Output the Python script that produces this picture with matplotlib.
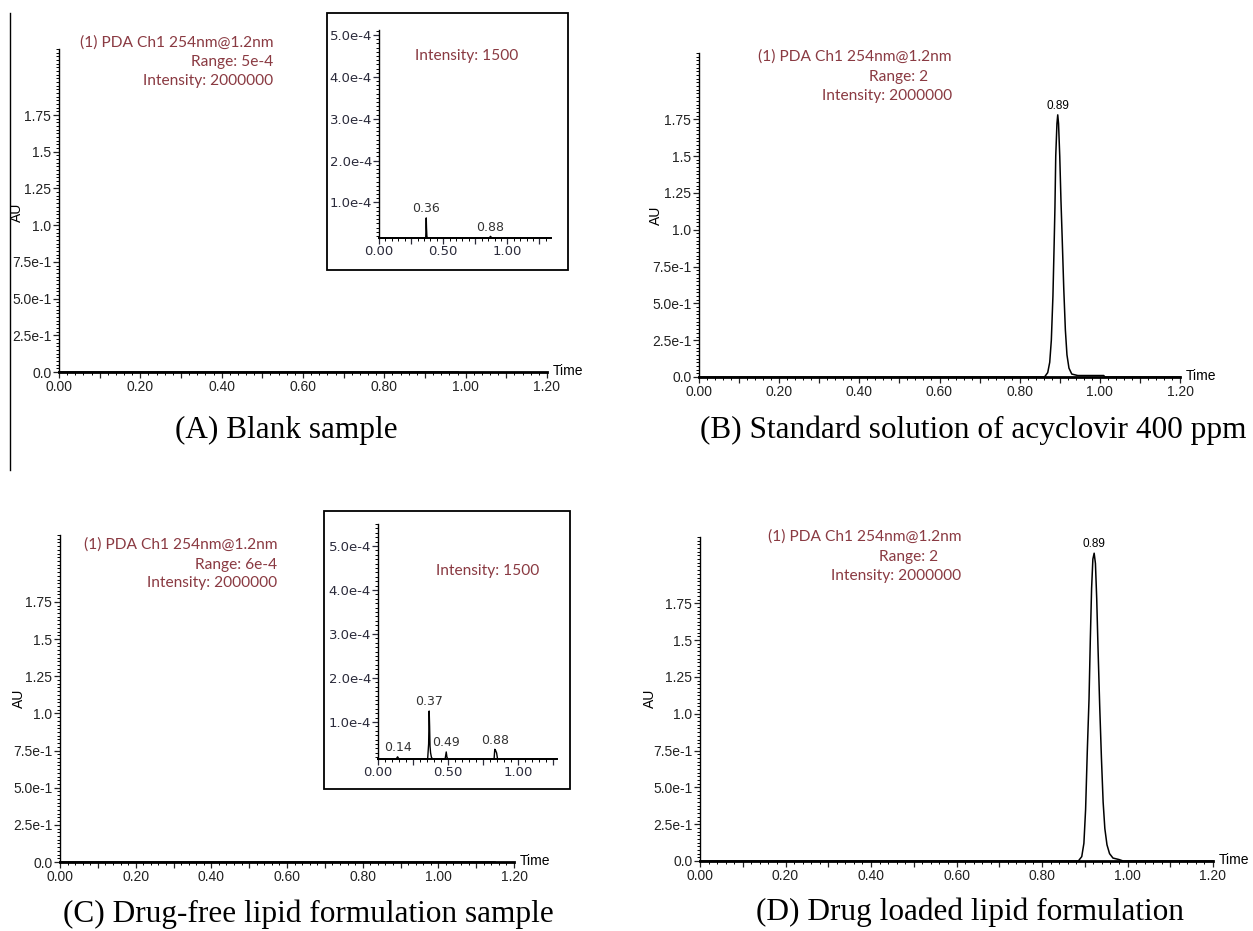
import numpy as np
import matplotlib
matplotlib.use("Agg")
import matplotlib.pyplot as plt
from matplotlib.ticker import MultipleLocator, FixedLocator, FuncFormatter
from matplotlib.patches import Rectangle
from matplotlib.lines import Line2D

W, H = 1253, 931
DPI = 100

# ---- dados lidos do cromatograma ----
# (A) branco: só linha de base
tempo_a = [0.0, 0.98]
au_a = [0.0, 0.0]

# (B) padrão aciclovir 400 ppm
tempo_b = [0.0, 0.862, 0.870, 0.875, 0.879, 0.883, 0.886, 0.888, 0.890, 0.893, 0.895,
           0.897, 0.900, 0.903, 0.906, 0.910, 0.914, 0.918, 0.923, 0.930, 0.945, 1.010, 1.012, 1.2]
au_b = [0.0, 0.0, 0.03, 0.10, 0.25, 0.55, 0.90, 1.15, 1.50, 1.72, 1.78,
        1.72, 1.50, 1.20, 0.95, 0.60, 0.32, 0.15, 0.06, 0.02, 0.01, 0.01, 0.0, 0.0]

# (C) formulação sem fármaco: só linha de base na escala principal
tempo_c = [0.0, 1.15]
au_c = [0.0, 0.0]

# (D) formulação com fármaco
tempo_d = [0.0, 0.885, 0.893, 0.898, 0.902, 0.906, 0.910, 0.913, 0.916, 0.919, 0.922,
           0.925, 0.928, 0.931, 0.935, 0.939, 0.943, 0.947, 0.952, 0.958, 0.966, 0.980, 0.990, 1.2]
au_d = [0.0, 0.0, 0.03, 0.12, 0.35, 0.75, 1.10, 1.50, 1.85, 2.05, 2.09,
        2.02, 1.78, 1.45, 1.05, 0.70, 0.40, 0.22, 0.11, 0.05, 0.02, 0.01, 0.0, 0.0]

# insertos (unidades de 1e-4 AU)
tempo_ia = [0.0, 0.364, 0.368, 0.370, 0.373, 0.376, 0.86, 0.868, 0.874, 0.88, 1.34]
au_ia = [0.15, 0.15, 0.63, 0.40, 0.20, 0.15, 0.15, 0.19, 0.17, 0.15, 0.15]

tempo_ic = [0.0, 0.13, 0.14, 0.15, 0.355, 0.362, 0.366, 0.369, 0.372, 0.376, 0.382, 0.39,
            0.48, 0.488, 0.493, 0.50, 0.83, 0.835, 0.84, 0.848, 0.855, 1.28]
au_ic = [0.16, 0.16, 0.21, 0.16, 0.16, 0.50, 1.25, 0.90, 0.45, 0.30, 0.20, 0.16,
         0.16, 0.32, 0.20, 0.16, 0.16, 0.38, 0.36, 0.30, 0.16, 0.16]

# rótulos de pico: (texto, tempo, altura)
picos_b = [("0.89", 0.895, 1.78)]
picos_d = [("0.89", 0.922, 2.09)]
picos_ia = [("0.36", 0.368, 0.63), ("0.88", 0.868, 0.19)]
picos_ic = [("0.14", 0.14, 0.21), ("0.37", 0.366, 1.25), ("0.49", 0.488, 0.32), ("0.88", 0.835, 0.38)]

yticks_main = [0.0, 0.25, 0.5, 0.75, 1.0, 1.25, 1.5, 1.75]
ylabels_main = ["0.0", "2.5e-1", "5.0e-1", "7.5e-1", "1.0", "1.25", "1.5", "1.75"]
yticks_ins = [1, 2, 3, 4, 5]
ylabels_ins = ["1.0e-4", "2.0e-4", "3.0e-4", "4.0e-4", "5.0e-4"]

legendas = ["(A) Blank sample", "(B) Standard solution of acyclovir 400 ppm",
            "(C) Drug-free lipid formulation sample", "(D) Drug loaded lipid formulation"]

MAROON = "#8a3a42"
SANS = ["Liberation Sans", "DejaVu Sans"]
INFO = ["Lato", "DejaVu Sans"]


def rect(x0, x1, ytop, ybot):
    return [x0 / W, 1 - ybot / H, (x1 - x0) / W, (ybot - ytop) / H]


def ftext(fig, x, y, s, **kw):
    fig.text(x / W, 1 - y / H, s, **kw)


fig = plt.figure(figsize=(W / DPI, H / DPI), dpi=DPI, facecolor="white")


def painel(pos, tempo, au, picos):
    x0, x1, ytop, ybot = pos
    ax = fig.add_axes(rect(x0, x1, ytop, ybot))
    ax.plot(tempo, au, color="black", lw=1.1, clip_on=False, zorder=5)
    ax.set_xlim(0, 1.2)
    ax.set_ylim(0, 2.2)
    for s in ("top", "right"):
        ax.spines[s].set_visible(False)
    ax.spines["left"].set_linewidth(1.0)
    ax.spines["bottom"].set_linewidth(2.0)
    ax.yaxis.set_major_locator(FixedLocator(yticks_main))
    ax.set_yticklabels(ylabels_main)
    ax.yaxis.set_minor_locator(MultipleLocator(0.025))
    ax.xaxis.set_major_locator(MultipleLocator(0.1))
    ax.xaxis.set_major_formatter(FuncFormatter(
        lambda v, p: f"{v:.2f}" if abs(round(v * 10)) % 2 == 0 else ""))
    ax.xaxis.set_minor_locator(MultipleLocator(0.02))
    ax.tick_params(which="major", length=4.5, width=0.9, pad=1, labelsize=10, colors="#222222")
    ax.tick_params(which="minor", length=2.5, width=0.7)
    for lab in ax.get_xticklabels() + ax.get_yticklabels():
        lab.set_family(SANS)
    for txt, t, y in picos:
        ax.annotate(txt, (t, y), xytext=(0, 2), textcoords="offset points",
                    ha="center", va="bottom", fontsize=8.5, family=SANS)
    ftext(fig, x1 + 6, ybot - 1, "Time", fontsize=10, family=SANS, va="center", ha="left")
    return ax


def inserto(pos, caixa, tempo, au, picos, ylim, xmax):
    bx0, bx1, by0, by1 = caixa
    fig.patches.append(Rectangle((bx0 / W, 1 - by1 / H), (bx1 - bx0) / W, (by1 - by0) / H,
                                 transform=fig.transFigure, fill=False, lw=1.3,
                                 edgecolor="black", zorder=3))
    x0, x1, ytop, ybot = pos
    ax = fig.add_axes(rect(x0, x1, ytop, ybot))
    ax.patch.set_alpha(0)
    ax.plot(tempo, au, color="black", lw=1.0, clip_on=False, zorder=5)
    ax.set_xlim(0, xmax)
    ax.set_ylim(*ylim)
    for s in ("top", "right"):
        ax.spines[s].set_visible(False)
    ax.spines["left"].set_linewidth(1.0)
    ax.spines["bottom"].set_linewidth(1.4)
    ax.yaxis.set_major_locator(FixedLocator(yticks_ins))
    ax.set_yticklabels(ylabels_ins)
    ax.yaxis.set_minor_locator(MultipleLocator(0.1))
    ax.xaxis.set_major_locator(MultipleLocator(0.25))
    ax.xaxis.set_major_formatter(FuncFormatter(
        lambda v, p: f"{v:.2f}" if abs(round(v * 4)) % 2 == 0 else ""))
    ax.xaxis.set_minor_locator(MultipleLocator(0.05))
    ax.tick_params(which="major", length=4, width=0.9, pad=1, labelsize=9.5, colors="#2b2b3b")
    ax.tick_params(which="minor", length=2, width=0.7)
    for lab in ax.get_xticklabels() + ax.get_yticklabels():
        lab.set_family(["DejaVu Sans"])
    for txt, t, y in picos:
        ax.annotate(txt, (t, y), xytext=(0, 2), textcoords="offset points",
                    ha="center", va="bottom", fontsize=9, color="#333333",
                    family=["DejaVu Sans"])
    return ax


painel((59, 547, 49, 372), tempo_a, au_a, [])
painel((699, 1180, 53, 377), tempo_b, au_b, picos_b)
painel((60, 514, 535, 862), tempo_c, au_c, [])
painel((700, 1213, 537, 861), tempo_d, au_d, picos_d)

inserto((379, 551, 30, 238), (327, 568, 13, 270), tempo_ia, au_ia, picos_ia, (0.15, 5.12), 1.34)
inserto((378, 557, 524, 759), (324, 570, 511, 789), tempo_ic, au_ic, picos_ic, (0.16, 5.5), 1.28)

# textos do detector
info = [
    [(273, 43, "(1) PDA Ch1 254nm@1.2nm"), (273, 62, "Range: 5e-4"), (273, 81, "Intensity: 2000000")],
    [(952, 57, "(1) PDA Ch1 254nm@1.2nm"), (928, 77, "Range: 2"), (952, 96, "Intensity: 2000000")],
    [(277, 545, "(1) PDA Ch1 254nm@1.2nm"), (277, 565, "Range: 6e-4"), (277, 583, "Intensity: 2000000")],
    [(961, 537, "(1) PDA Ch1 254nm@1.2nm"), (938, 557, "Range: 2"), (961, 576, "Intensity: 2000000")],
]
for bloco in info:
    for x, y, s in bloco:
        ftext(fig, x, y, s, fontsize=11.2, family=INFO, color=MAROON, ha="right", va="center")

ftext(fig, 467, 56, "Intensity: 1500", fontsize=11.2, family=INFO, color=MAROON, ha="center", va="center")
ftext(fig, 488, 571, "Intensity: 1500", fontsize=11.2, family=INFO, color=MAROON, ha="center", va="center")

for x, y in [(17, 212), (656, 215), (19, 698), (650, 698)]:
    ftext(fig, x, y, "AU", fontsize=10, family=SANS, rotation=90, ha="center", va="center")

for (x, y), s in zip([(286, 430), (973, 430), (308, 914), (970, 912)], legendas):
    ftext(fig, x, y, s, fontsize=22.5, family=["Liberation Serif", "DejaVu Serif"],
          ha="center", va="center")

# linha vertical da margem esquerda
fig.add_artist(Line2D([10 / W, 10 / W], [1 - 13 / H, 1 - 470 / H], color="black", lw=1.0))

fig.savefig("out.png", dpi=DPI, facecolor="white")
